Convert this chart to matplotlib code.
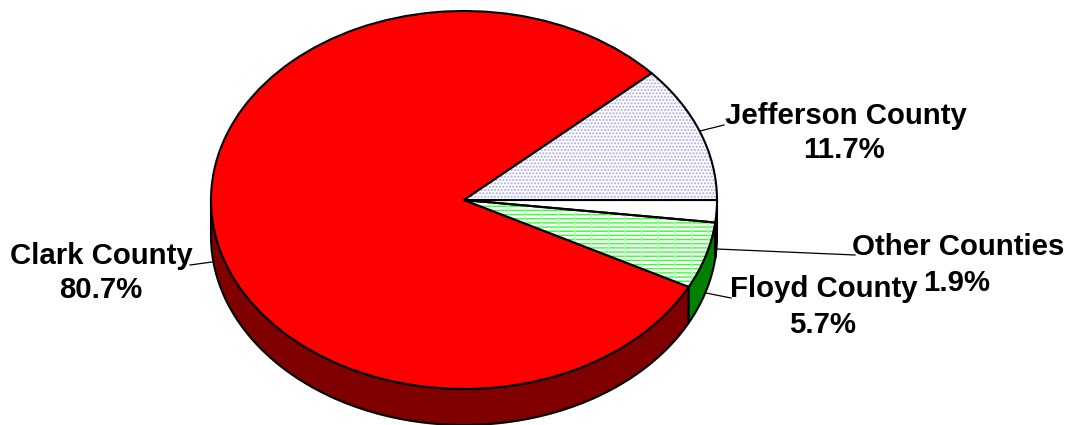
import numpy as np
import matplotlib
matplotlib.use('Agg')
import matplotlib.pyplot as plt
from matplotlib.patches import Wedge

# counter-clockwise from the Jefferson / Clark boundary
counties = ['Clark County', 'Floyd County', 'Other Counties', 'Jefferson County']
shares = [80.7, 5.7, 1.9, 11.7]
share_labels = ['80.7%', '5.7%', '1.9%', '11.7%']
top_colors = ['#ff0000', '#ffffff', '#ffffff', '#ffffff']
wall_colors = ['#800000', '#008000', '#ffffff', '#ffffff']
hatches = [None, '----', None, '.....']
hatch_colors = ['black', '#33ff33', 'black', '#a8a8f0']

W, H = 1070, 425
CX, CY = 464, 200
RX, RY = 253, 189
DEPTH = 36 / RY
START = 42.12

plt.rcParams['font.family'] = ['Liberation Sans', 'DejaVu Sans']
plt.rcParams['hatch.linewidth'] = 1.0


def px(x, y):
    # picture pixels to pie units
    return (x - CX) / RX, (CY - y) / RY


fig = plt.figure(figsize=(W / 100, H / 100), dpi=100)
ax = fig.add_axes([0, 0, 1, 1])

wedges, _ = ax.pie(shares, startangle=START, counterclock=True, radius=1,
                   colors=top_colors, frame=False,
                   wedgeprops={'linewidth': 1.5, 'edgecolor': 'black', 'zorder': 5})
ax.set_aspect('auto')
# one data unit is RX px across and RY px down, which gives the tilt
ax.set_xlim(-CX / RX, (W - CX) / RX)
ax.set_ylim(-(H - CY) / RY, CY / RY)

for w, h, hc in zip(wedges, hatches, hatch_colors):
    if h:
        w.set_hatch(h)
        w.set_edgecolor(hc)
        w.set_linewidth(0)
        if h == '----':
            # faint vertical lines of the grid pattern
            ax.add_patch(Wedge((0, 0), 1, w.theta1, w.theta2, fill=False, hatch='|',
                               edgecolor='#aaffaa', linewidth=0, zorder=5.5))
        ax.add_patch(Wedge((0, 0), 1, w.theta1, w.theta2, fill=False,
                           edgecolor='black', linewidth=1.5, zorder=6))

# side wall, only the part of each slice facing the viewer
a0 = START
for share, col in zip(shares, wall_colors):
    a1 = a0 + share * 3.6
    ts = np.radians(np.linspace(a0, a1, 300))
    ts = ts[np.sin(ts) <= 0]
    if len(ts) > 1:
        x = np.cos(ts)
        y = np.sin(ts)
        ax.fill(np.r_[x, x[::-1]], np.r_[y, y[::-1] - DEPTH], facecolor=col,
                edgecolor='black', linewidth=1.5, zorder=2)
    a0 = a1

# name line and value line are placed apart, as in the reference
name_pos = [(101, 264), (824, 297), (958, 255), (846, 124)]
value_pos = [(101, 298), (823, 333), (957, 291), (844, 158)]
for name, val, p1, p2 in zip(counties, share_labels, name_pos, value_pos):
    ax.text(*px(*p1), name, ha='center', va='baseline', fontsize=21.2,
            fontweight='bold', zorder=8)
    ax.text(*px(*p2), val, ha='center', va='baseline', fontsize=21.2,
            fontweight='bold', zorder=8)

leaders = [((190, 265), (212, 262)), ((700, 131), (724, 125)),
           ((717, 249), (855, 255)), ((706, 293), (731, 298))]
for p0, p1 in leaders:
    x0, y0 = px(*p0)
    x1, y1 = px(*p1)
    ax.plot([x0, x1], [y0, y1], color='black', linewidth=0.9, zorder=7)

fig.savefig('out.png', dpi=100)
